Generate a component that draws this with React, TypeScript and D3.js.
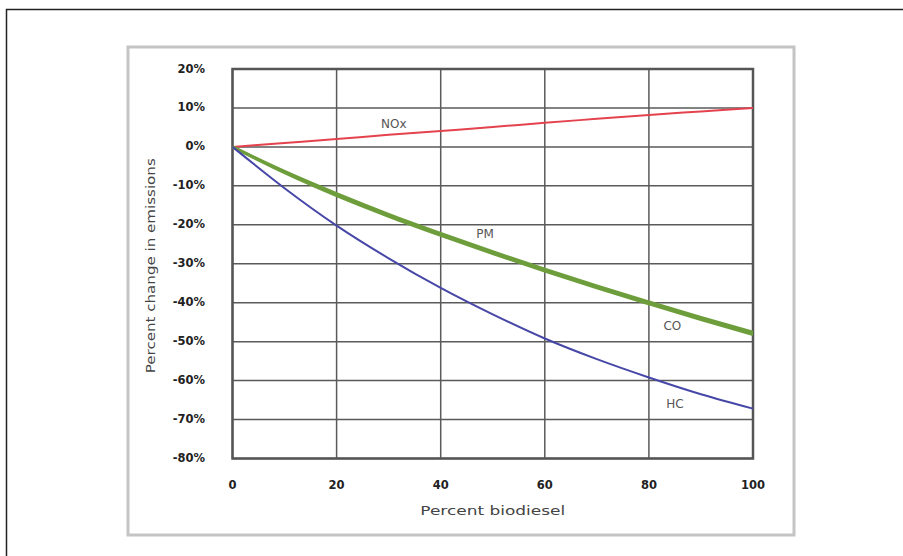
import React from "react";
import * as d3 from "d3";

const xTicks = [0, 20, 40, 60, 80, 100];
const yTicks = [20, 10, 0, -10, -20, -30, -40, -50, -60, -70, -80];
const blend = [0, 10, 20, 30, 40, 50, 60, 70, 80, 90, 100];
const noxValues = [0, 1, 2, 3.1, 4.1, 5.1, 6.2, 7.2, 8.2, 9.1, 10];
const pmValues = [0, -6.3, -12.0, -17.3, -22.2, -26.9, -31.4, -35.7, -39.8, -43.8, -47.6];
const coValues = [0, -6.6, -12.5, -17.8, -22.7, -27.4, -31.9, -36.2, -40.3, -44.3, -48.2];
const hcValues = [0, -10.6, -20.2, -28.6, -36.2, -43, -49.2, -54.5, -59.2, -63.5, -67.2];
const seriesNames = ["NOx", "PM", "CO", "HC"];
const labelPos = [
  [31, 5.8],
  [48.5, -22.4],
  [84.5, -46.2],
  [85, -66.2],
];

export default function App() {
  const x = d3.scaleLinear().domain([0, 100]).range([232.5, 753]);
  const y = d3.scaleLinear().domain([20, -80]).range([69, 458.5]);
  const line = d3
    .line<number>()
    .x((_, i) => x(blend[i]))
    .y((d) => y(d))
    .curve(d3.curveMonotoneX);

  const series = [
    { name: seriesNames[0], values: noxValues, color: "#e4434e", w: 2 },
    { name: seriesNames[1], values: pmValues, color: "#6e9e3c", w: 3 },
    { name: seriesNames[2], values: coValues, color: "#6e9e3c", w: 3 },
    { name: seriesNames[3], values: hcValues, color: "#4747a8", w: 2 },
  ];
  const font = "'DejaVu Sans', 'Liberation Sans', sans-serif";

  return (
    <svg
      width={903}
      height={556}
      style={{ position: "absolute", left: 0, top: 0, background: "#fff" }}
    >
      <rect x={0} y={0} width={903} height={556} fill="#fff" />
      {/* outer frame */}
      <path d="M6.5,560 L6.5,9.5 L910,9.5" fill="none" stroke="#222" strokeWidth={1.5} />
      {/* panel */}
      <rect x={128} y={47} width={666} height={488} fill="#fff" stroke="#c4c4c4" strokeWidth={3} />
      {/* gridlines */}
      {yTicks.map((t) => (
        <line key={"gy" + t} x1={x(0)} x2={x(100)} y1={y(t)} y2={y(t)} stroke="#5a5a5a" strokeWidth={1.5} />
      ))}
      {xTicks.map((t) => (
        <line key={"gx" + t} x1={x(t)} x2={x(t)} y1={y(20)} y2={y(-80)} stroke="#5a5a5a" strokeWidth={1.5} />
      ))}
      <rect x={x(0)} y={y(20)} width={x(100) - x(0)} height={y(-80) - y(20)} fill="none" stroke="#555" strokeWidth={2.5} />
      {/* series */}
      {series.map((s) => (
        <path key={s.name} d={line(s.values) || ""} fill="none" stroke={s.color} strokeWidth={s.w} />
      ))}
      {/* series labels */}
      {series.map((s, i) => (
        <text
          key={"l" + s.name}
          x={x(labelPos[i][0])}
          y={y(labelPos[i][1])}
          textAnchor="middle"
          dominantBaseline="middle"
          fontFamily={font}
          fontSize={12}
          fill="#555"
        >
          {s.name}
        </text>
      ))}
      {/* y tick labels */}
      {yTicks.map((t) => (
        <text
          key={"ty" + t}
          x={205}
          y={y(t)}
          textAnchor="end"
          dominantBaseline="middle"
          fontFamily={font}
          fontSize={11.5}
          fontWeight="bold"
          fill="#222"
        >
          {t + "%"}
        </text>
      ))}
      {/* x tick labels */}
      {xTicks.map((t) => (
        <text
          key={"tx" + t}
          x={x(t)}
          y={485}
          textAnchor="middle"
          dominantBaseline="middle"
          fontFamily={font}
          fontSize={11.5}
          fontWeight="bold"
          fill="#222"
        >
          {t}
        </text>
      ))}
      <text
        x={x(50)}
        y={511}
        textAnchor="middle"
        dominantBaseline="middle"
        fontFamily={font}
        fontSize={13}
        fill="#444"
        textLength={145}
        lengthAdjust="spacingAndGlyphs"
      >
        Percent biodiesel
      </text>
      <text
        transform={`translate(151,${(y(20) + y(-80)) / 2 + 2}) rotate(-90)`}
        textAnchor="middle"
        dominantBaseline="middle"
        fontFamily={font}
        fontSize={13}
        fill="#444"
        textLength={215}
        lengthAdjust="spacingAndGlyphs"
      >
        Percent change in emissions
      </text>
    </svg>
  );
}
